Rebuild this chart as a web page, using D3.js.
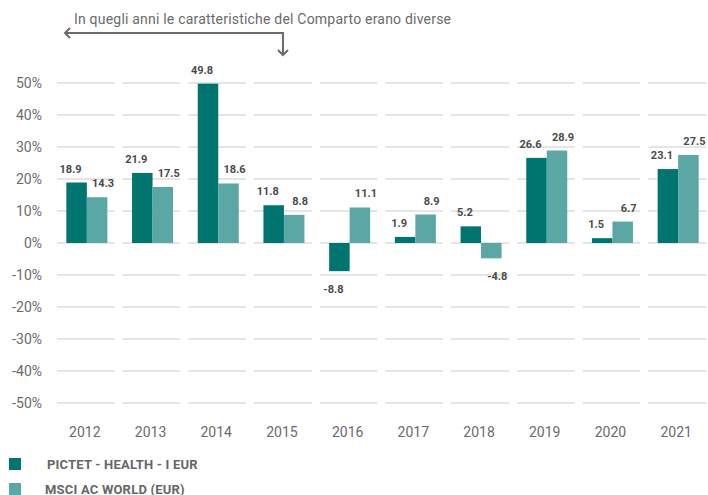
<!DOCTYPE html>
<html>
<head>
<meta charset="utf-8">
<script src="https://cdn.jsdelivr.net/npm/d3@7"></script>
<style>
    body { margin: 0; background: #fff; }
    svg { font-family: Roboto, "Liberation Sans", sans-serif; }
</style>
</head>
<body>
<div id="chart"></div>
<script>

// data
let years = ["2012", "2013", "2014", "2015", "2016", "2017", "2018", "2019", "2020", "2021"];
let fundValues = [18.9, 21.9, 49.8, 11.8, -8.8, 1.9, 5.2, 26.6, 1.5, 23.1];
let indexValues = [14.3, 17.5, 18.6, 8.8, 11.1, 8.9, -4.8, 28.9, 6.7, 27.5];
let seriesNames = ["PICTET - HEALTH - I EUR", "MSCI AC WORLD (EUR)"];
let yTicks = [50, 40, 30, 20, 10, 0, -10, -20, -30, -40, -50];
let noteText = "In quegli anni le caratteristiche del Comparto erano diverse";

let colors = ["#00746F", "#5AA7A6"];

let width = 708, height = 495;

let svg = d3.select("#chart").append("svg")
    .attr("width", width)
    .attr("height", height);

// scales
let x = d3.scaleBand()
    .domain(years)
    .range([54, 711])
    .paddingInner(0);

let y = d3.scaleLinear()
    .domain([-50, 50])
    .range([403, 83]);

let barW = 20.5;

// grid segments, one per year band
yTicks.forEach(t => {
    svg.selectAll(null)
        .data(years)
        .enter()
        .append("line")
        .attr("x1", d => x(d) + 3)
        .attr("x2", d => x(d) + x.bandwidth() - 5)
        .attr("y1", y(t))
        .attr("y2", y(t))
        .attr("stroke", "#e5e5e5")
        .attr("stroke-width", 2);
});

// y axis labels
svg.selectAll(".ytick")
    .data(yTicks)
    .enter()
    .append("text")
    .attr("class", "ytick")
    .attr("x", 42)
    .attr("y", d => y(d) + 5)
    .attr("text-anchor", "end")
    .attr("font-size", 14)
    .attr("fill", "#6b6b6b")
    .text(d => d + "%");

// x axis labels
svg.selectAll(".xtick")
    .data(years)
    .enter()
    .append("text")
    .attr("class", "xtick")
    .attr("x", d => x(d) + x.bandwidth() / 2 - 2)
    .attr("y", 437)
    .attr("text-anchor", "middle")
    .attr("font-size", 14)
    .attr("fill", "#6b6b6b")
    .text(d => d);

// bars
let series = [fundValues, indexValues];
series.forEach((vals, s) => {
    let cx = (d, i) => x(years[i]) + x.bandwidth() / 2;

    svg.selectAll(".bar" + s)
        .data(vals)
        .enter()
        .append("rect")
        .attr("class", "bar" + s)
        .attr("x", (d, i) => cx(d, i) - barW + s * barW)
        .attr("y", d => y(Math.max(0, d)))
        .attr("width", barW)
        .attr("height", d => Math.abs(y(d) - y(0)))
        .attr("fill", colors[s]);

    svg.selectAll(".lab" + s)
        .data(vals)
        .enter()
        .append("text")
        .attr("class", "lab" + s)
        .attr("x", (d, i) => cx(d, i) - barW / 2 + s * barW + (s === 0 ? -6 : 6))
        .attr("y", d => d >= 0 ? y(d) - 10 : y(d) + 22)
        .attr("text-anchor", "middle")
        .attr("font-size", 11)
        .attr("font-weight", "bold")
        .attr("fill", "#4a4a4a")
        .text(d => d.toFixed(1));
});

// annotation
svg.append("text")
    .attr("x", 74)
    .attr("y", 24)
    .attr("font-size", 14)
    .attr("fill", "#6b6b6b")
    .attr("textLength", 377)
    .text(noteText);

svg.append("path")
    .attr("d", "M65,33 H283 V55")
    .attr("fill", "none")
    .attr("stroke", "#6b6b6b")
    .attr("stroke-width", 2);

svg.append("path")
    .attr("d", "M70,28 L65,33 L70,38")
    .attr("fill", "none")
    .attr("stroke", "#6b6b6b")
    .attr("stroke-width", 2);

svg.append("path")
    .attr("d", "M278,50 L283,55 L288,50")
    .attr("fill", "none")
    .attr("stroke", "#6b6b6b")
    .attr("stroke-width", 2);

// legend
let legend = svg.selectAll(".legend")
    .data(seriesNames)
    .enter()
    .append("g")
    .attr("class", "legend")
    .attr("transform", (d, i) => "translate(9," + (458 + i * 25) + ")");

legend.append("rect")
    .attr("width", 12)
    .attr("height", 12)
    .attr("fill", (d, i) => colors[i]);

legend.append("text")
    .attr("x", (d, i) => i === 0 ? 38 : 36)
    .attr("y", 11)
    .attr("font-size", 13)
    .attr("font-weight", "bold")
    .attr("letter-spacing", 0.2)
    .attr("fill", "#666")
    .text(d => d);

</script>
</body>
</html>
